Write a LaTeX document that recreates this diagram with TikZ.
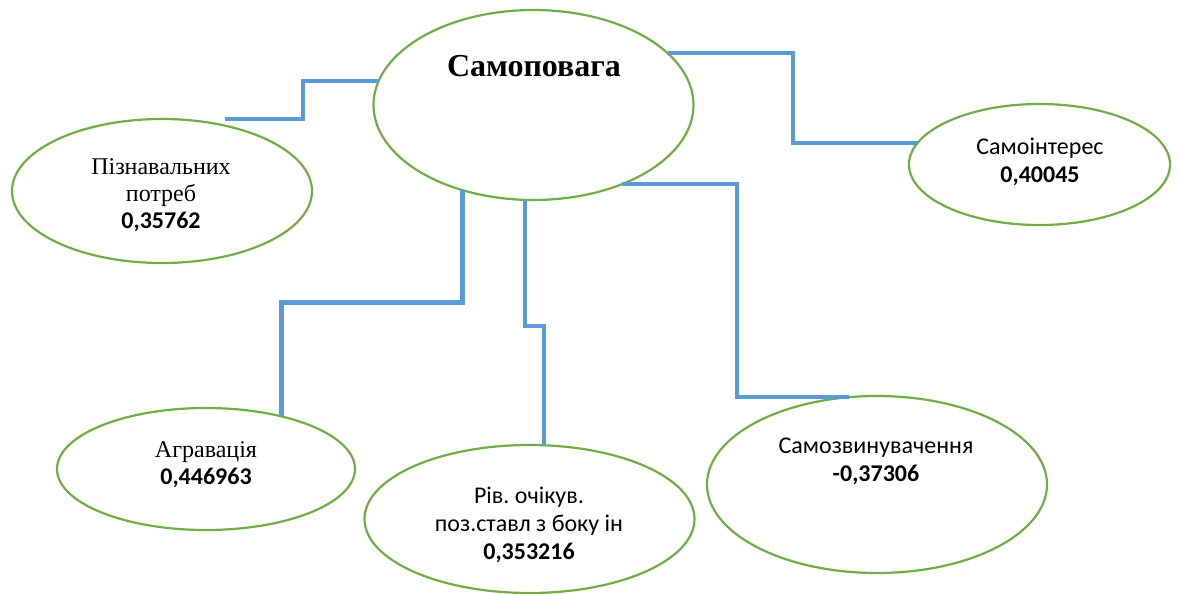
\documentclass[tikz,border=0pt]{standalone}
\usepackage{fontspec}
\setmainfont{Liberation Serif}
\newfontfamily\calfont{Carlito}
\usetikzlibrary{shapes.geometric}
\definecolor{sgreen}{RGB}{112,173,71}
\definecolor{sblue}{RGB}{91,155,213}
\frenchspacing

\begin{document}
\begin{tikzpicture}[x=0.5pt,y=-0.5pt,
  oval/.style={draw=sgreen,line width=1.1pt,ellipse,inner sep=0pt,outer sep=0pt},
  link/.style={draw=sblue,line width=2pt},
  tnr/.style={align=center,font=\fontsize{12}{13.5}\selectfont},
  cal/.style={align=center,font=\calfont\fontsize{12}{14}\selectfont}]
  \useasboundingbox (0,0) rectangle (1179,594);
  % ovals
  \node[oval,minimum width=160pt,minimum height=95pt] (sam) at (533.5,105) {};
  \node[oval,minimum width=150pt,minimum height=72pt] (pz) at (162,191) {};
  \node[oval,minimum width=130.5pt,minimum height=60.5pt] (int) at (1039.5,164.5) {};
  \node[oval,minimum width=149pt,minimum height=61pt] (agr) at (206,469) {};
  \node[oval,minimum width=165pt,minimum height=74pt] (riv) at (529.5,519) {};
  \node[oval,minimum width=170pt,minimum height=88.5pt] (szv) at (877,484.5) {};
  % texts
  \node[font=\bfseries\fontsize{16}{18}\selectfont] (samt) at (534,66.5) {Самоповага};
  \node[tnr] (pzt) at (161,195.5) {Пізнавальних\\потреб\\{\calfont\bfseries 0,35762}};
  \node[cal] (intt) at (1040,162) {Самоінтерес\\\textbf{0,40045}};
  \node[tnr] (agrt) at (206,465) {Агравація\\{\calfont\bfseries 0,446963}};
  \node[cal] (rivt) at (529,525) {Рів. очікув.\\поз.ставл з боку ін\\\textbf{0,353216}};
  \node[cal] (szvt) at (876,461) {Самозвинувачення\\\textbf{-0,37306}};
  % links
  \coordinate (pzend) at (225,119);
  \draw[link] (pzend) -- ++(78,0) |- (sam.171);
  \draw[link] (sam.21) -- ++(125,0) |- (int.170);
  \draw[link,line width=2.5pt] (sam.-130) -- ++(0,112) -| (agr.35);
  \draw[link] (sam.-95) -- ++(0,126) -| (riv.79);
  \draw[link] (sam.-42) -- ++(115,0) |- (szv.108);
\end{tikzpicture}
\end{document}
